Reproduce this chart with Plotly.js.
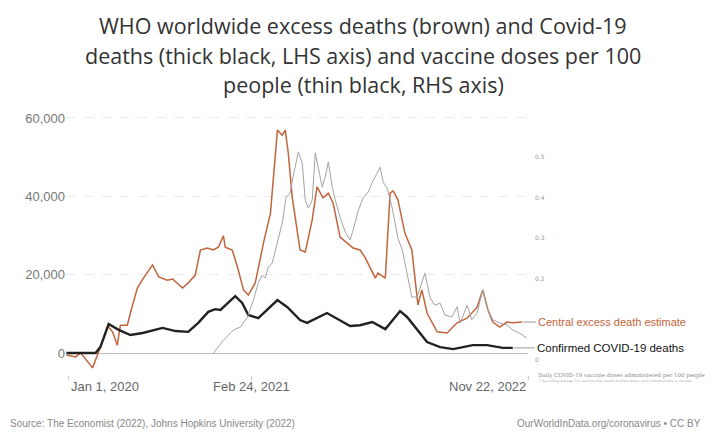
<!DOCTYPE html>
<html>
<head>
<meta charset="utf-8">
<script src="https://cdn.plot.ly/plotly-3.0.1.min.js"></script>
<style>html,body{margin:0;padding:0;background:#fff;}#chart{width:710px;height:439px;}</style>
</head>
<body>
<div id="chart"></div>
<script>
// Confirmed COVID-19 deaths (daily, 7-day average) - left axis
const deathDates = ["2019-12-27","2020-02-04","2020-03-03","2020-03-14","2020-04-02","2020-04-25","2020-05-22","2020-06-19","2020-08-04","2020-09-03","2020-10-02","2020-10-25","2020-11-17","2020-12-03","2020-12-15","2021-01-18","2021-02-03","2021-02-17","2021-03-12","2021-04-25","2021-05-18","2021-06-16","2021-07-02","2021-08-17","2021-09-16","2021-10-09","2021-11-01","2021-11-29","2021-12-29","2022-02-01","2022-02-17","2022-03-12","2022-04-04","2022-05-04","2022-06-03","2022-07-18","2022-08-20","2022-09-25","2022-10-18"];
const deathValues = [0,0,0,1500,7400,5900,4600,5100,6400,5600,5400,7700,10500,11200,11000,14500,12800,9700,8900,13500,11700,8400,7700,10200,8400,6900,7100,7900,6100,10700,9200,5900,2800,1500,1000,2000,2000,1300,1300];

// Central excess death estimate - left axis
const excessDates = ["2019-12-27","2020-01-17","2020-01-29","2020-02-25","2020-03-10","2020-03-31","2020-04-11","2020-04-22","2020-04-29","2020-05-15","2020-05-22","2020-06-07","2020-06-21","2020-07-12","2020-07-26","2020-08-15","2020-08-27","2020-09-19","2020-10-02","2020-10-18","2020-10-30","2020-11-15","2020-11-29","2020-12-10","2020-12-22","2020-12-26","2021-01-11","2021-01-23","2021-02-06","2021-02-17","2021-03-05","2021-03-24","2021-04-09","2021-04-25","2021-05-06","2021-05-13","2021-05-20","2021-05-29","2021-06-16","2021-06-28","2021-07-14","2021-07-25","2021-08-08","2021-08-20","2021-08-31","2021-09-16","2021-10-02","2021-10-16","2021-11-01","2021-11-13","2021-12-06","2021-12-12","2021-12-29","2022-01-09","2022-01-16","2022-01-27","2022-02-12","2022-02-28","2022-03-14","2022-03-23","2022-04-04","2022-04-27","2022-05-20","2022-06-12","2022-07-05","2022-07-28","2022-08-10","2022-08-22","2022-09-02","2022-09-18","2022-10-05","2022-10-18","2022-11-08"];
const excessValues = [-500,-1000,0,-3800,300,6900,5400,2000,7100,7100,10200,16600,19100,22500,19400,18600,18900,16600,17900,19900,26300,26800,26300,27000,29900,27000,26300,22000,16100,14800,17900,28100,35700,56900,55600,56900,51000,39800,26300,25800,34000,42400,39600,40800,38300,29600,28100,26800,26300,24300,19100,20400,19100,40800,41400,39100,30600,26300,12300,16100,10200,5400,5100,7700,8900,11700,16100,11000,7900,6600,7900,7700,7900];

// Daily vaccine doses per 100 people - right axis
const vaxDates = ["2020-11-29","2020-12-22","2021-01-14","2021-01-30","2021-02-15","2021-03-01","2021-03-12","2021-03-21","2021-03-28","2021-04-04","2021-04-13","2021-04-25","2021-05-06","2021-05-15","2021-05-24","2021-05-31","2021-06-12","2021-06-21","2021-06-28","2021-07-05","2021-07-14","2021-07-21","2021-07-28","2021-08-06","2021-08-13","2021-08-20","2021-08-29","2021-09-05","2021-09-16","2021-09-28","2021-10-09","2021-10-16","2021-10-28","2021-11-08","2021-11-20","2021-11-29","2021-12-10","2021-12-17","2021-12-24","2022-01-02","2022-01-14","2022-01-20","2022-01-27","2022-02-06","2022-02-17","2022-02-28","2022-03-12","2022-03-23","2022-03-30","2022-04-11","2022-04-22","2022-05-04","2022-05-15","2022-05-31","2022-06-12","2022-06-19","2022-07-05","2022-07-16","2022-07-28","2022-08-10","2022-08-20","2022-09-02","2022-09-18","2022-10-05","2022-10-18","2022-11-03","2022-11-19"];
const vaxValues = [0.017,0.049,0.074,0.081,0.106,0.148,0.19,0.209,0.202,0.229,0.239,0.288,0.337,0.401,0.411,0.451,0.512,0.485,0.394,0.374,0.394,0.51,0.475,0.426,0.451,0.488,0.426,0.394,0.352,0.315,0.296,0.32,0.369,0.399,0.414,0.438,0.46,0.475,0.438,0.424,0.374,0.337,0.30,0.271,0.214,0.155,0.155,0.192,0.214,0.153,0.135,0.14,0.111,0.106,0.131,0.091,0.135,0.099,0.116,0.172,0.128,0.099,0.091,0.086,0.074,0.066,0.054];

const leftTicks = [0,20000,40000,60000];
const leftTickText = ["0","20,000","40,000","60,000"];
const rightTicks = [0,0.2,0.3,0.4,0.5];
const rightTickText = ["0","0.2","0.3","0.4","0.5"];
const xTickDates = ["2020-01-01","2021-02-24","2022-11-22"];
const xTickLabels = ["Jan 1, 2020","Feb 24, 2021","Nov 22, 2022"];
const titleLines = ["WHO worldwide excess deaths (brown) and Covid-19","deaths (thick black, LHS axis) and vaccine doses per 100","people (thin black, RHS axis)"];

const BROWN = "#c2643c";
const traces = [
  {x: vaxDates, y: vaxValues, yaxis: "y2", type: "scatter", mode: "lines", line: {color: "#a3a3a3", width: 1}, hoverinfo: "skip"},
  {x: excessDates, y: excessValues, type: "scatter", mode: "lines", line: {color: BROWN, width: 1.5}, name: "Central excess death estimate"},
  {x: deathDates, y: deathValues, type: "scatter", mode: "lines", line: {color: "#222", width: 2.4}, name: "Confirmed COVID-19 deaths"}
];

const H = 265; // plot height in px
const py = p => (375 - p) / H;
const px = p => (p - 65.8) / 462.2;
const annotations = [];
const titleY = [25, 55, 84];
titleLines.forEach((t, i) => annotations.push({text: t, xref: "paper", yref: "paper", x: px(363), y: py(titleY[i]), xanchor: "center", yanchor: "middle", showarrow: false, font: {family: "Open Sans, sans-serif", size: 21.5, color: "#333"}}));
const anchors = ["left", "center", "right"];
xTickDates.forEach((d, i) => annotations.push({text: xTickLabels[i], xref: "x", yref: "paper", x: d, y: py(386), xanchor: anchors[i], yanchor: "middle", showarrow: false, font: {family: "Liberation Sans, Arial, sans-serif", size: 13, color: "#666"}}));
annotations.push({text: "Central excess death estimate", xref: "x", yref: "y", x: excessDates[excessDates.length - 1], y: excessValues[excessValues.length - 1], ax: 14, ay: 0, xanchor: "left", yanchor: "middle", showarrow: true, arrowhead: 0, arrowwidth: 1, arrowcolor: "#999", standoff: 1, font: {family: "Liberation Sans, Arial, sans-serif", size: 11, color: BROWN}});
annotations.push({text: "Confirmed COVID-19 deaths", xref: "x", yref: "y", x: deathDates[deathDates.length - 1], y: deathValues[deathValues.length - 1], ax: 22, ay: 0, xanchor: "left", yanchor: "middle", showarrow: true, arrowhead: 0, arrowwidth: 1, arrowcolor: "#999", standoff: 1, font: {family: "Liberation Sans, Arial, sans-serif", size: 11.5, color: "#111"}});
annotations.push({text: "Daily COVID-19 vaccine doses administered per 100 people", xref: "paper", yref: "paper", x: px(536), y: py(375), xanchor: "left", yanchor: "middle", showarrow: false, font: {family: "DejaVu Serif, serif", size: 5.5, color: "#888"}});
annotations.push({text: "7-day rolling average. For vaccines that require multiple doses, each individual dose is counted.", xref: "paper", yref: "paper", x: px(537), y: py(381), xanchor: "left", yanchor: "middle", showarrow: false, font: {family: "DejaVu Sans, sans-serif", size: 3.2, color: "#aaa"}});
annotations.push({text: "Source: The Economist (2022), Johns Hopkins University (2022)", xref: "paper", yref: "paper", x: px(8), y: py(423), xanchor: "left", yanchor: "middle", showarrow: false, font: {family: "Liberation Sans, Arial, sans-serif", size: 10, color: "#888"}});
annotations.push({text: "OurWorldInData.org/coronavirus • CC BY", xref: "paper", yref: "paper", x: px(703), y: py(423), xanchor: "right", yanchor: "middle", showarrow: false, font: {family: "Liberation Sans, Arial, sans-serif", size: 10, color: "#888"}});

const layout = {
  width: 710, height: 439,
  margin: {l: 65.8, r: 710 - 528, t: 110, b: 439 - 375, pad: 0},
  paper_bgcolor: "#fff", plot_bgcolor: "#fff",
  showlegend: false,
  xaxis: {type: "date", range: ["2019-12-26", "2022-11-22"], tickvals: xTickDates, ticktext: ["", "", ""], ticks: "outside", ticklen: 4, tickcolor: "#ccc", showgrid: false, zeroline: false, showline: false, fixedrange: true},
  yaxis: {range: [-5617, 62037], tickvals: leftTicks, ticktext: leftTickText, showgrid: true, gridcolor: "#ebebeb", griddash: "dash", gridwidth: 1, zeroline: true, zerolinecolor: "#bbb", zerolinewidth: 1, showline: false, ticks: "", tickfont: {family: "Liberation Sans, Arial, sans-serif", size: 13, color: "#777"}, fixedrange: true},
  yaxis2: {overlaying: "y", side: "right", range: [-0.03695, 0.6158], tickvals: rightTicks, ticktext: rightTickText, showgrid: false, zeroline: false, showline: false, ticks: "", ticklabelstandoff: 6, tickfont: {family: "DejaVu Sans, sans-serif", size: 6, color: "#999"}, fixedrange: true},
  annotations: annotations
};

Plotly.newPlot("chart", traces, layout, {displayModeBar: false, staticPlot: true});
</script>
</body>
</html>
